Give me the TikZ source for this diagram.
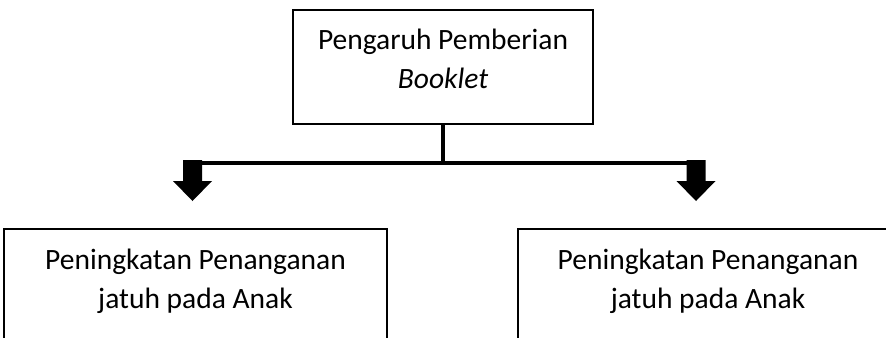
\documentclass[tikz,border=0pt]{standalone}
\usepackage{fontspec}
\setmainfont{Carlito}
\tikzset{
  boxnode/.style={draw=black, line width=2bp, inner sep=0pt, anchor=north},
  link/.style={draw=black, line width=4bp},
  blockarrow/.style={fill=black},
}
\newcommand{\boxtext}[3]{\parbox[c][#1][t]{#2}{\centering\fontsize{29.5bp}{39bp}\selectfont #3}}
\begin{document}
\begin{tikzpicture}[x=1bp,y=-1bp]
\useasboundingbox (0,0) rectangle (886,337);
\clip (0,0) rectangle (886,337);
\node[boxnode] (top) at (443,9)
  {\boxtext{114bp}{300bp}{\rule{0pt}{39bp}Pengaruh Pemberian\\\textit{Booklet}}};
\node[boxnode] (left) at (195.5,228)
  {\boxtext{130bp}{383bp}{\rule{0pt}{40bp}Peningkatan Penanganan\\jatuh pada Anak}};
\node[boxnode] (right) at (708,228)
  {\boxtext{130bp}{380bp}{\rule{0pt}{40bp}Peningkatan Penanganan\\jatuh pada Anak}};
\coordinate (hl) at (192.5,163);
\coordinate (hr) at (696,163);
\coordinate (hm) at (top.south |- hl);
\draw[link] (top.south) -- (hm);
\draw[link] (hl) -- (hr);
\foreach \c in {hl,hr}{
  \fill[blockarrow, shift={(\c)}] (-9.5,-3) -- (9.5,-3) -- (9.5,18) -- (19.5,18)
    -- (0,38) -- (-19.5,18) -- (-9.5,18) -- cycle;
}
\end{tikzpicture}
\end{document}
